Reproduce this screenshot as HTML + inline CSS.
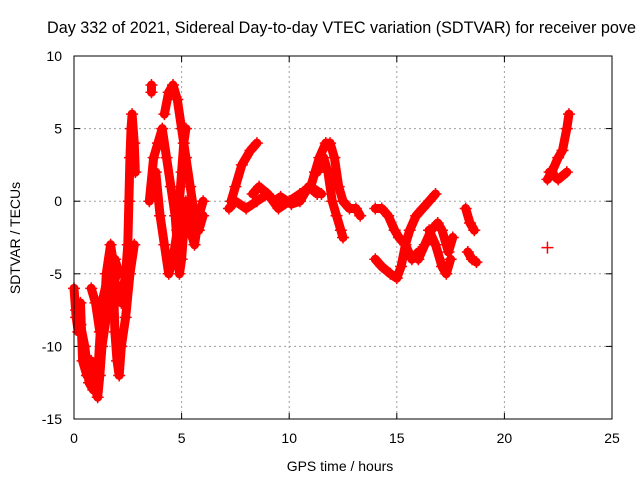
<!DOCTYPE html>
<html><head><meta charset="utf-8"><style>
body{margin:0;background:#fff}
svg{display:block;font-family:"Liberation Sans",sans-serif}
</style></head><body>
<svg id="chart" width="640" height="480" viewBox="0 0 640 480">
<rect width="640" height="480" fill="#fff"/>
<text x="47" y="33" font-size="16.2">Day 332 of 2021, Sidereal Day-to-day VTEC variation (SDTVAR) for receiver pove</text>
<g id="grid"></g>
<g id="ticks" font-size="14"></g>
<g id="marks"></g>
<rect x="74" y="56" width="538" height="363" fill="none" stroke="#000" stroke-width="1"/>
<text x="340" y="471" font-size="14" text-anchor="middle">GPS time / hours</text>
<text transform="translate(20,238) rotate(-90)" font-size="14" text-anchor="middle">SDTVAR / TECUs</text>
</svg>
<script>
const xTicks=[0,5,10,15,20,25];
const yTicks=[10,5,0,-5,-10,-15];
const traces=[
[[0,-6],[0.1,-8],[0.2,-9],[0.3,-7],[0.4,-11],[0.6,-12],[0.8,-11],[1.0,-13],[1.1,-13.5],[1.2,-12],[1.3,-10],[1.5,-8],[1.6,-6],[1.8,-5],[2.0,-6],[2.2,-7],[2.4,-5],[2.5,-3],[2.55,0],[2.6,3],[2.65,5],[2.7,6],[2.8,4],[2.85,2]],
[[0.8,-6],[1.0,-7],[1.2,-9],[1.4,-8],[1.5,-5],[1.7,-3],[1.8,-4],[1.9,-9],[2.0,-11],[2.1,-12],[2.2,-10],[2.4,-8],[2.6,-5],[2.8,-3]],
[[0.1,-7.5],[0.3,-8.5],[0.5,-10],[0.7,-12.5],[0.9,-13],[1.1,-12],[1.3,-7],[1.6,-5],[1.9,-4],[2.1,-5]],
[[3.5,0],[3.7,3],[3.9,4],[4.1,5],[4.3,3],[4.5,1],[4.7,-1],[4.8,-3],[4.9,-5],[5.0,-4],[5.1,-2],[5.2,0],[5.4,-2],[5.6,-3],[5.8,-1],[6.0,0]],
[[3.8,2],[4.0,-1],[4.2,-3],[4.4,-5],[4.6,-4],[4.8,-2],[4.9,0],[5.0,2],[5.1,4],[5.2,5]],
[[4.2,6],[4.4,7.5],[4.6,8],[4.8,7],[5.0,5],[5.2,3],[5.4,1],[5.6,-1],[5.8,-2],[6.0,-1]],
[[3.6,7.5],[3.6,8]],
[[7.2,-0.5],[7.5,0],[8,-0.5],[8.5,0],[9,0.5],[9.5,-0.5],[10,0],[10.5,0.5],[11,1],[11.5,0.5]],
[[7.3,0],[7.5,1],[7.8,2.5],[8.2,3.5],[8.5,4]],
[[8.3,0.5],[8.6,1],[9,0.5],[9.3,0],[9.6,0.3],[10.1,-0.2],[10.5,0],[10.9,1],[11.3,0.5]],
[[11,1],[11.2,2],[11.4,3],[11.7,4],[11.9,4],[12.1,3],[12.3,1],[12.5,0],[12.8,-0.5],[13.1,-0.5],[13.3,-1]],
[[11.3,2],[11.6,3],[11.8,2],[12.0,0],[12.2,-1],[12.4,-2],[12.5,-2.5]],
[[14,-0.5],[14.3,-0.5],[14.6,-1],[14.9,-2],[15.1,-2.5],[15.4,-3],[15.7,-4],[16,-3.5]],
[[14,-4],[14.3,-4.5],[14.7,-5],[15,-5.3],[15.2,-4.5],[15.4,-3],[15.6,-2],[15.9,-1],[16.2,-0.5],[16.5,0],[16.8,0.5]],
[[16,-4],[16.3,-3],[16.6,-2],[16.9,-1.5],[17.1,-2],[17.4,-3.5],[17.6,-2.5]],
[[16.5,-2],[16.8,-3],[17.1,-4.5],[17.3,-5],[17.5,-4]],
[[18.2,-0.5],[18.4,-1.5],[18.6,-2]],
[[18.3,-3.5],[18.5,-4],[18.7,-4.2]],
[[22,1.5],[22.2,2],[22.5,3],[22.7,3.5],[22.9,5],[23,6]],
[[22.1,2],[22.5,1.5],[22.9,2]],
[[22,-3.2]]
];
const NS='http://www.w3.org/2000/svg';
const X=h=>74+h*(538/25);
const Y=v=>419-(v+15)*(363/25);
const grid=document.getElementById('grid'),tk=document.getElementById('ticks'),mk=document.getElementById('marks');
function el(t,a,p){const e=document.createElementNS(NS,t);for(const k in a)e.setAttribute(k,a[k]);p.appendChild(e);return e;}
xTicks.forEach(t=>{
 const x=X(t);
 if(t>0&&t<25){const g=el('line',{x1:x,x2:x,y1:56,y2:419,stroke:'#a0a0a0','stroke-dasharray':'2,3'},grid);
 
 }
 el('line',{x1:x,x2:x,y1:419,y2:413,stroke:'#000'},grid);
 el('line',{x1:x,x2:x,y1:56,y2:62,stroke:'#000'},grid);
 const l=el('text',{x:x,y:443,'text-anchor':'middle'},tk);l.textContent=t;
 
 
});
yTicks.forEach(t=>{
 const y=Y(t);
 if(t>-15&&t<10){const g=el('line',{x1:74,x2:612,y1:y,y2:y,stroke:'#a0a0a0','stroke-dasharray':'2,3'},grid);
 
 }
 el('line',{x1:74,x2:80,y1:y,y2:y,stroke:'#000'},grid);
 el('line',{x1:612,x2:606,y1:y,y2:y,stroke:'#000'},grid);
 const l=el('text',{x:62,y:y+5,'text-anchor':'end'},tk);l.textContent=t;
 
 
});
traces.forEach(tr=>{
 const pts=tr.map(p=>X(p[0])+','+Y(p[1])).join(' ');
 if(tr.length>1){const pl=el('polyline',{points:pts,fill:'none',stroke:'#f00','stroke-width':9,'stroke-linejoin':'round','stroke-linecap':'round'},mk);
 
 }
 tr.forEach(p=>{const x=X(p[0]),y=Y(p[1]);
  const m=el('path',{d:`M${x-6},${y}H${x+6}M${x},${y-6}V${y+6}`,stroke:'#f00','stroke-width':1.5},mk);
  
  });
});
</script>
</body></html>
